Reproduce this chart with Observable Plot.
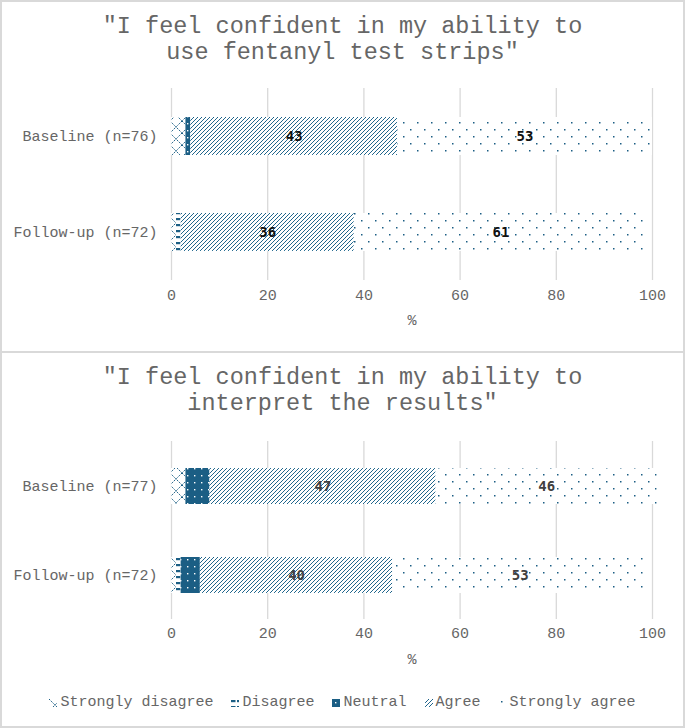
<!DOCTYPE html>
<html><head><meta charset="utf-8">
<script src="https://cdn.jsdelivr.net/npm/d3@7"></script>
<script src="https://cdn.jsdelivr.net/npm/@observablehq/plot@0.6"></script>
<style>
body{margin:0;background:#fff;font-family:"Liberation Mono",monospace;color:#666}
.panel{position:absolute;left:0;width:685px;box-sizing:border-box;border:2px solid #d9d9d9;background:#fff;overflow:hidden}
.title{position:absolute;left:0;right:0;top:12px;text-align:center;font-size:23.5px;line-height:26px;color:#666;white-space:pre}
.chart{position:absolute;left:0;top:0}
.legend{position:absolute;left:0;right:0;display:flex;justify-content:center;gap:18px;font-size:15px;line-height:18px;color:#666}
.legend .item{display:flex;align-items:center;white-space:pre}
.legend svg{margin-right:3px}
</style></head><body>
<svg width="0" height="0" style="position:absolute">
<defs>
<pattern id="pSD" patternUnits="userSpaceOnUse" width="12" height="12">
<rect width="12" height="12" fill="#fff"/>
<path d="M0,0L12,12M12,0L0,12" stroke="#1b5e84" stroke-width="1" stroke-dasharray="1.5,1"/>
</pattern>
<pattern id="pD" patternUnits="userSpaceOnUse" width="6" height="6">
<rect width="6" height="6" fill="#fff"/>
<rect x="0" y="1" width="4.5" height="2.2" fill="#1b5e84"/>
</pattern>
<pattern id="pN" patternUnits="userSpaceOnUse" width="7" height="7">
<rect width="7" height="7" fill="#1b5e84"/>
<rect x="3" y="3" width="1.4" height="1.4" fill="#fff"/>
</pattern>
<pattern id="pA" patternUnits="userSpaceOnUse" width="4" height="4" shape-rendering="crispEdges">
<rect width="4" height="4" fill="#fff"/>
<rect x="3" y="0" width="1" height="1" fill="#1b5e84"/>
<rect x="2" y="1" width="1" height="1" fill="#2a6f94"/>
<rect x="1" y="2" width="1" height="1" fill="#1b5e84"/>
<rect x="0" y="3" width="1" height="1" fill="#2a6f94"/>
</pattern>
<pattern id="pSA" patternUnits="userSpaceOnUse" width="14" height="14">
<rect width="14" height="14" fill="#fff"/>
<rect x="2" y="2" width="1.5" height="1.5" fill="#1b5e84"/>
<rect x="9" y="9" width="1.5" height="1.5" fill="#1b5e84"/>
</pattern>
</defs>
</svg>
<div class="panel" style="top:0;height:353px">
  <div class="chart" id="c1" style="top:-1px"></div>
  <div class="title">"I feel confident in my ability to
use fentanyl test strips"</div>
</div>
<div class="panel" style="top:351px;height:377px">
  <div class="chart" id="c2"></div>
  <div class="title">"I feel confident in my ability to
interpret the results"</div>
  <div class="legend" id="legend" style="top:341px"></div>
</div>
<script>
const categories = ["Strongly disagree", "Disagree", "Neutral", "Agree", "Strongly agree"];
const patternIds = ["pSD", "pD", "pN", "pA", "pSA"];
const groupsUse = ["Baseline (n=76)", "Follow-up (n=72)"];
const groupsInterp = ["Baseline (n=77)", "Follow-up (n=72)"];
const useBaseline = [3, 0, 1, 43, 53];
const useFollowUp = [1, 1, 0, 36, 61];
const interpBaseline = [3, 0, 5, 47, 46];
const interpFollowUp = [1, 1, 4, 40, 53];
const xTicks = [0, 20, 40, 60, 80, 100];

function makeChart(groups, baseVals, followVals, opts) {
  const data = [];
  categories.forEach((c, i) => data.push({group: groups[0], cat: c, value: baseVals[i]}));
  categories.forEach((c, i) => data.push({group: groups[1], cat: c, value: followVals[i]}));
  return Plot.plot({
    width: 681, height: opts.height,
    marginTop: opts.marginTop, marginBottom: opts.marginBottom,
    marginLeft: 169, marginRight: 31,
    style: {fontFamily: '"Liberation Mono", monospace', fontSize: "15px", color: "#666", background: "transparent"},
    x: {domain: [0, 100]},
    y: {domain: groups, paddingInner: 0.6, paddingOuter: 0.3},
    color: {domain: categories, range: patternIds.map(id => `url(#${id})`)},
    marks: [
      Plot.ruleX(xTicks, {stroke: "#d9d9d9", strokeWidth: 1.3}),
      Plot.barX(data, Plot.stackX({x: "value", y: "group", fill: "cat"})),
      Plot.text(data, Plot.stackX({
        x: "value", y: "group",
        text: d => d.value >= 10 ? String(d.value) : null,
        fill: opts.labelColor, fontWeight: "bold",
        fontFamily: '"DejaVu Sans Mono", monospace', fontSize: 14
      })),
      Plot.axisX({ticks: xTicks, tickSize: 0, tickPadding: opts.tickPadding, label: "%",
        labelAnchor: "center", labelArrow: "none", labelOffset: opts.labelOffset}),
      Plot.axisY({tickSize: 0, tickPadding: 14, label: null})
    ]
  });
}

document.getElementById("c1").append(makeChart(groupsUse, useBaseline, useFollowUp,
  {height: 347, marginTop: 87, marginBottom: 68, tickPadding: 9, labelOffset: 44, labelColor: "#111"}));
document.getElementById("c2").append(makeChart(groupsInterp, interpBaseline, interpFollowUp,
  {height: 320, marginTop: 88, marginBottom: 54, tickPadding: 8, labelOffset: 44, labelColor: "#404040"}));

const legend = document.getElementById("legend");
categories.forEach((c, i) => {
  const item = document.createElement("span");
  item.className = "item";
  item.innerHTML = `<svg width="8" height="8"><rect width="8" height="8" fill="url(#${patternIds[i]})"/></svg>`;
  item.append(document.createTextNode(c));
  legend.append(item);
});
</script>
</body></html>
